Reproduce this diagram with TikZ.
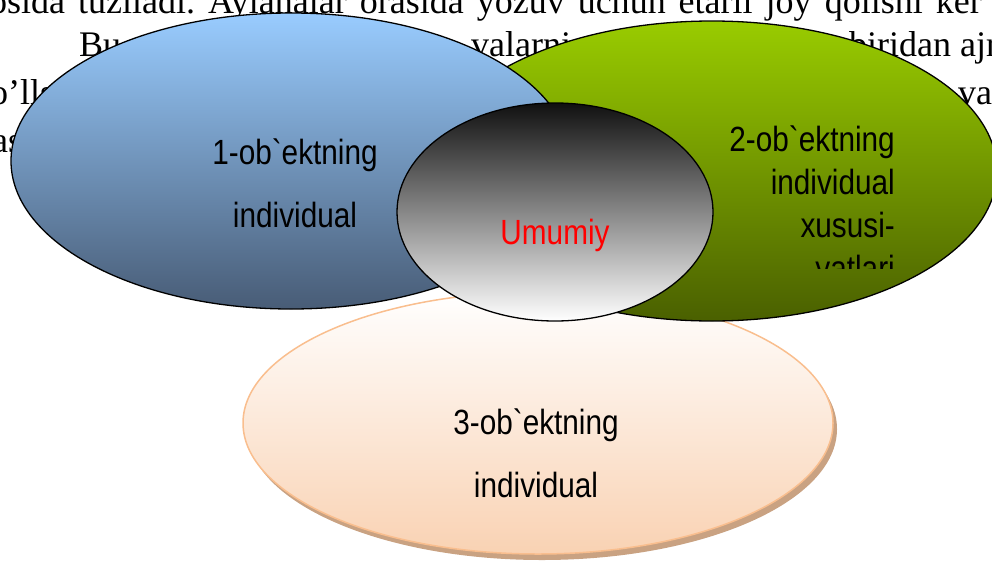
\documentclass[tikz,border=0pt]{standalone}
\usepackage{fontspec}
\setmainfont{Liberation Serif}
\newfontfamily\tor[FakeStretch=0.85, Ligatures=TeXOff]{Liberation Sans}
\usepackage{tikz}
\usetikzlibrary{shapes.geometric, positioning, calc}
\definecolor{kokYuqori}{HTML}{99CCFF}
\definecolor{kokPast}{HTML}{485C76}
\definecolor{yashilYuqori}{HTML}{99CC00}
\definecolor{yashilPast}{HTML}{4A6000}
\definecolor{qoraYuqori}{HTML}{101010}
\definecolor{shaftoliPast}{HTML}{F9D2B3}
\definecolor{shaftoliChiziq}{HTML}{F9BE8E}
\definecolor{soyaRang}{HTML}{C9A282}
\tikzstyle{aylana} = [ellipse, draw=black, line width=1.3pt, inner sep=0pt]
\tikzstyle{yozuv} = [font=\tor\fontsize{35}{63}\selectfont, align=center, inner sep=0pt, text=black]
\tikzstyle{fon} = [font=\fontsize{36}{44}\selectfont, anchor=base west, inner sep=0pt]

\begin{document}
\begin{tikzpicture}[x=1pt, y=-1pt]
    \clip (0,0) rectangle (992,562);

    % Orqadagi matn
    \node (qator1) [fon] at (-11,13) {\frenchspacing\spaceskip=13pt\relax osida tuziladi. Aylanalar orasida yozuv uchun etarli joy qolishi ker};
    \node (qator2a) [fon] at (79,56) {Bu};
    \node (qator2b) [fon] at (471,56) {valarni};
    \node (qator2c) [fon] at (849,56) {biridan ajr};
    \node (qator3a) [fon] at (-10,104) {o’lls};
    \node (qator3b) [fon] at (958,104) {va};
    \node (qator4) [fon] at (-8,152) {as};

    % Aylanalar
    \node (uchinchiSoya) [ellipse, fill=soyaRang, minimum width=590pt, minimum height=262pt] at (542,429) {};
    \node (uchinchi) [ellipse, draw=shaftoliChiziq, line width=1.5pt, top color=white, bottom color=shaftoliPast, minimum width=590pt, minimum height=262pt] at (538,423) {};
    \node (ikkinchi) [aylana, top color=yashilYuqori, bottom color=yashilPast, minimum width=570pt, minimum height=300pt] at (712,171) {};
    \node (birinchi) [aylana, top color=kokYuqori, bottom color=kokPast, minimum width=560pt, minimum height=296pt] at (291,161) {};
    \node (umumiy) [aylana, top color=qoraYuqori, bottom color=white, minimum width=316pt, minimum height=218pt] at (555,212) {};

    % Yozuvlar
    \node (birinchiMatn) [yozuv, anchor=north] at (295,139) {1-ob`ektning\\individual};
    \node (uchinchiMatn) [yozuv, anchor=north] at (536,409) {3-ob`ektning\\individual};
    \node (umumiyMatn) [yozuv, text=red, anchor=base] at (555,244) {Umumiy};
    \begin{scope}
        \clip (700,100) rectangle (900,268);
        \node (ikkinchiMatn) [yozuv, font=\tor\fontsize{35}{43}\selectfont, align=right, anchor=north east] at (895,126) {2-ob`ektning\\individual\\xususi-\\yatlari};
    \end{scope}
\end{tikzpicture}
\end{document}
